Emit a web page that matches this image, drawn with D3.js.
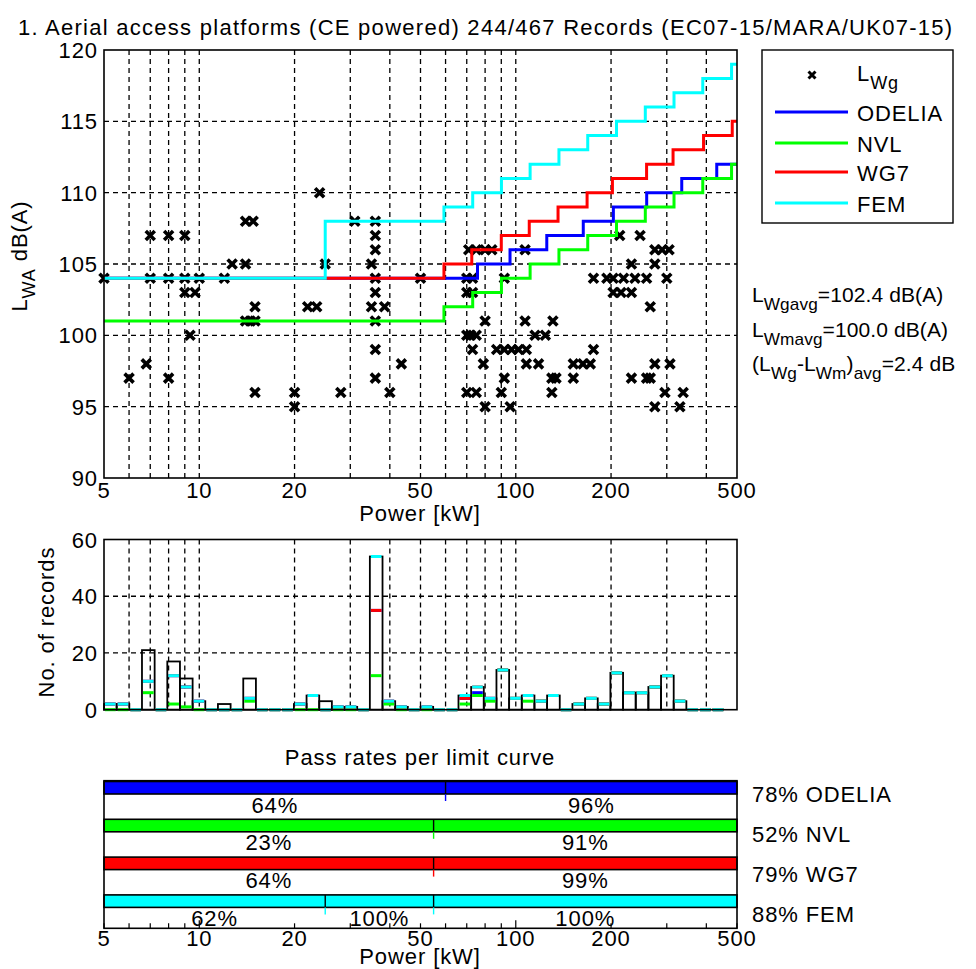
<!DOCTYPE html>
<html>
<head>
<meta charset="utf-8">
<script src="https://cdn.jsdelivr.net/npm/d3@7"></script>
<style>
body { margin: 0; background: #fff; }
text { font-family: "Liberation Sans", Arial, sans-serif; fill: #000; letter-spacing: 0.9px; }
</style>
</head>
<body>
<div id="canvas"></div>
<script>
"use strict"

// ---- data ----
let titleText = "1. Aerial access platforms (CE powered) 244/467 Records (EC07-15/MARA/UK07-15)";

// scatter L_Wg: power [kW] and level [dB(A)]
let scatterP = [5, 6, 6.8, 7, 7, 8, 8, 8, 9, 9, 9, 9.35, 9.7, 10, 12, 12.7, 14, 14, 14.8,
  14, 14.5, 15, 15, 15, 20, 20, 22, 23.5, 24, 25, 28, 31,
  36, 36, 36, 35, 36, 36, 35, 36, 36, 36, 38.5, 40, 43.5, 50,
  70, 73, 70, 73, 71, 75, 80, 84, 107, 92, 80, 107, 131, 70, 72, 75, 115, 124, 73,
  87, 92, 97, 102, 108, 79, 108, 118, 152, 163, 172, 176, 92, 130, 134, 152,
  70, 75, 90, 130, 80, 96,
  176, 194, 203, 219, 238, 259, 300, 203, 215, 232, 232, 275, 275, 290, 305,
  213, 247, 266, 232, 259, 266, 275, 307, 296, 338, 275, 330];
let scatterL = [104, 97, 98, 107, 104, 107, 104, 97, 107, 104, 103, 100, 103, 104, 104, 105, 105, 108, 108,
  101, 101, 101, 102, 96, 96, 95, 102, 102, 110, 105, 96, 108,
  108, 107, 106, 105, 104, 103, 102, 101, 99, 97, 102, 96, 98, 104,
  104, 104, 103, 103, 106, 106, 106, 106, 106, 104, 101, 101, 101, 100, 100, 100, 100, 100, 99,
  99, 99, 99, 99, 99, 98, 98, 98, 98, 98, 98, 99, 97, 97, 97, 97,
  96, 96, 96, 96, 95, 95,
  104, 104, 104, 104, 104, 104, 104, 103, 103, 103, 105, 105, 106, 106, 106,
  107, 107, 102, 97, 97, 97, 98, 98, 96, 96, 95, 95];

// limit curves as steps: power where each level starts, and the level
let odeliaStepP = [5, 75.7, 95.9, 125.3, 163.4, 203.4, 259.2, 334.5, 431.5];
let odeliaStepL = [104, 105, 106, 107, 108, 109, 110, 111, 112];
let nvlStepP = [5, 59.3, 73.1, 90.1, 111, 136.9, 168.8, 208.1, 256.6, 316.2, 389.8, 480.6];
let nvlStepL = [101, 102, 103, 104, 105, 106, 107, 108, 109, 110, 111, 112];
let wg7StepP = [5, 59.3, 72.6, 90, 110.3, 136, 168, 202, 259, 314, 392, 483];
let wg7StepL = [104, 105, 106, 107, 108, 109, 110, 111, 112, 113, 114, 115];
let femStepP = [5, 25, 59.3, 73.1, 90.1, 111, 136.9, 168.8, 208.1, 256.6, 316.2, 389.8, 480.6];
let femStepL = [104, 108, 109, 110, 111, 112, 113, 114, 115, 116, 117, 118, 119];

let curveNames = ["ODELIA", "NVL", "WG7", "FEM"];
let curveColors = ["#0000ff", "#00ff00", "#ff0000", "#00ffff"];

// histogram: records per log bin (25 bins per decade from 5 kW) and passes per curve
let histCount  = [2, 2, 0, 21, 0, 17, 11, 3, 0, 2, 0, 11, 0, 0, 0, 2, 5, 3, 1, 1, 0, 54, 3, 1, 0, 1, 0, 0, 5, 8, 4, 14, 4, 5, 3, 5, 0, 2, 4, 2, 13, 6, 6, 8, 12, 3, 0, 0, 0];
let histODELIA = [2, 2, 0, 10, 0, 12, 8, 3, 0, 0, 0, 4, 0, 0, 0, 2, 5, 0, 1, 1, 0, 35, 3, 1, 0, 1, 0, 0, 4, 6, 4, 14, 4, 5, 3, 5, 0, 2, 4, 2, 13, 6, 6, 8, 12, 3, 0, 0, 0];
let histNVL    = [0, 0, 0, 6, 0, 2, 1, 0, 0, 0, 0, 3, 0, 0, 0, 0, 0, 0, 0, 0, 0, 12, 2, 0, 0, 0, 0, 0, 2, 5, 3, 14, 4, 3, 3, 5, 0, 2, 4, 2, 13, 6, 6, 8, 12, 3, 0, 0, 0];
let histWG7    = [2, 2, 0, 10, 0, 12, 8, 3, 0, 0, 0, 4, 0, 0, 0, 2, 5, 0, 1, 1, 0, 35, 3, 1, 0, 1, 0, 0, 4, 8, 4, 14, 4, 5, 3, 5, 0, 2, 4, 2, 13, 6, 6, 8, 12, 3, 0, 0, 0];
let histFEM    = [2, 2, 0, 10, 0, 12, 8, 3, 0, 0, 0, 4, 0, 0, 0, 2, 5, 0, 1, 1, 0, 54, 3, 1, 0, 1, 0, 0, 5, 8, 4, 14, 4, 5, 3, 5, 0, 2, 4, 2, 13, 6, 6, 8, 12, 3, 0, 0, 0];

// pass rates per limit curve
let passTotal = [78, 52, 79, 88];
let passSplitP = [[60], [55], [55], [25, 55]];
let passSegRate = [[64, 96], [23, 91], [64, 99], [62, 100, 100]];

let statLines = [
  [["L", 0], ["Wgavg", 1], ["=102.4 dB(A)", 0]],
  [["L", 0], ["Wmavg", 1], ["=100.0 dB(A)", 0]],
  [["(L", 0], ["Wg", 1], ["-L", 0], ["Wm", 1], [")", 0], ["avg", 1], ["=2.4 dB", 0]]
];

let xTickVals = [5, 10, 20, 50, 100, 200, 500];
let yTickTop = [90, 95, 100, 105, 110, 115, 120];
let yTickHist = [0, 20, 40, 60];

// ---- drawing ----
let drawingWidth = 976;
let drawingHeight = 969;
let fs = 22;

let drawing = d3.select("#canvas")
    .append("svg")
    .attr("width", drawingWidth)
    .attr("height", drawingHeight);

drawing.append("rect")
    .attr("width", drawingWidth)
    .attr("height", drawingHeight)
    .attr("fill", "#fff");

let x = d3.scaleLog().domain([5, 500]).range([104, 737]);
let yTop = d3.scaleLinear().domain([90, 120]).range([478, 50]);
let yHist = d3.scaleLinear().domain([0, 60]).range([709.7, 539.5]);
let yRow = d3.scaleLinear().domain([0, 4]).range([781.5, 932.7]);
let yRowLabel = d3.scaleLinear().domain([0, 1]).range([802, 842]);

let xGrid = x.ticks().filter(d => d > 5 && d < 500);

// writes text made of normal and subscript pieces
function richText(g, parts, px, py, size, anchor) {
  let t = g.append("text").attr("x", px).attr("y", py)
      .attr("font-size", size).attr("text-anchor", anchor || "start");
  let down = false;
  parts.forEach(p => {
    let s = t.append("tspan").text(p[0]);
    if (p[1] && !down) { s.attr("dy", 8).attr("font-size", size * 0.82); down = true; }
    else if (p[1]) { s.attr("font-size", size * 0.82); }
    else if (down) { s.attr("dy", -8); down = false; }
  });
  return t;
}

function gridAndFrame(yScale, yGridVals) {
  let yb = yScale.range()[0], yt = yScale.range()[1];
  let g = drawing.append("g");
  g.selectAll(".vg").data(xGrid).join("line")
    .attr("x1", d => x(d)).attr("x2", d => x(d))
    .attr("y1", yt).attr("y2", yb)
    .attr("stroke", "#000").attr("stroke-width", 1.3)
    .attr("stroke-dasharray", "5,4");
  g.selectAll(".hg").data(yGridVals).join("line")
    .attr("x1", x(5)).attr("x2", x(500))
    .attr("y1", d => yScale(d)).attr("y2", d => yScale(d))
    .attr("stroke", "#000").attr("stroke-width", 1.3)
    .attr("stroke-dasharray", "5,4");
  return g;
}

function frame(yScale) {
  let yb = yScale.range()[0], yt = yScale.range()[1];
  drawing.append("rect")
    .attr("x", x(5)).attr("y", yt)
    .attr("width", x(500) - x(5)).attr("height", yb - yt)
    .attr("fill", "none").attr("stroke", "#000").attr("stroke-width", 1.6);
}

// title
drawing.append("text").attr("x", 18).attr("y", 35).attr("font-size", fs)
  .attr("textLength", 935).attr("lengthAdjust", "spacing")
  .text(titleText);

// ---- top plot ----
gridAndFrame(yTop, yTickTop.filter(d => d > 90 && d < 120));

let xMark = "M-4.5,-4.5L4.5,4.5M-4.5,4.5L4.5,-4.5";
drawing.append("g").selectAll("path").data(scatterP).join("path")
  .attr("d", xMark)
  .attr("transform", (d, i) => `translate(${x(d)},${yTop(scatterL[i])})`)
  .attr("stroke", "#000").attr("stroke-width", 3.6).attr("fill", "none");

let stepLine = d3.line().curve(d3.curveStepAfter)
  .x(d => x(d[0])).y(d => yTop(d[1]));

let stepSets = [[odeliaStepP, odeliaStepL], [nvlStepP, nvlStepL], [wg7StepP, wg7StepL], [femStepP, femStepL]];
stepSets.forEach((s, i) => {
  let pts = s[0].map((p, j) => [p, s[1][j]]);
  pts.push([500, s[1][s[1].length - 1]]);
  drawing.append("path").attr("d", stepLine(pts))
    .attr("fill", "none").attr("stroke", curveColors[i]).attr("stroke-width", 3);
});

frame(yTop);

drawing.append("g").selectAll("text").data(yTickTop).join("text")
  .attr("x", 98).attr("y", d => yTop(d) + 8)
  .attr("text-anchor", "end").attr("font-size", fs)
  .text(d => d);

drawing.append("g").selectAll("text").data(xTickVals).join("text")
  .attr("x", d => x(d)).attr("y", 498)
  .attr("text-anchor", "middle").attr("font-size", fs)
  .text(d => d);

drawing.append("text").attr("x", 420).attr("y", 521)
  .attr("text-anchor", "middle").attr("font-size", fs).text("Power [kW]");

let yLab = drawing.append("g").attr("transform", "translate(27,256) rotate(-90)");
richText(yLab, [["L", 0], ["WA", 1], [" dB(A)", 0]], 0, 0, fs, "middle");

// legend
drawing.append("rect").attr("x", 762).attr("y", 50).attr("width", 191).attr("height", 173)
  .attr("fill", "#fff").attr("stroke", "#000").attr("stroke-width", 1.4);
drawing.append("path").attr("d", "M-3.5,-3.5L3.5,3.5M-3.5,3.5L3.5,-3.5")
  .attr("transform", "translate(812,75)")
  .attr("stroke", "#000").attr("stroke-width", 3);
richText(drawing, [["L", 0], ["Wg", 1]], 857, 81, fs);
let legendY = [112, 143, 172, 203];
curveNames.forEach((n, i) => {
  drawing.append("line").attr("x1", 775).attr("x2", 848)
    .attr("y1", legendY[i]).attr("y2", legendY[i])
    .attr("stroke", curveColors[i]).attr("stroke-width", 3);
  drawing.append("text").attr("x", 857).attr("y", legendY[i] + 9)
    .attr("font-size", fs).text(n);
});

// statistics text
statLines.forEach((parts, i) => {
  richText(drawing, parts, 752, 302 + i * 34.5, 21)
    .style("letter-spacing", "0.1px");
});

// ---- histogram ----
gridAndFrame(yHist, [20, 40]);

let binLo = histCount.map((c, k) => 5 * Math.pow(10, k / 25));
let binHi = histCount.map((c, k) => 5 * Math.pow(10, (k + 1) / 25));

drawing.append("g").selectAll("rect").data(histCount).join("rect")
  .attr("x", (d, k) => x(binLo[k]))
  .attr("width", (d, k) => x(binHi[k]) - x(binLo[k]))
  .attr("y", d => yHist(d))
  .attr("height", d => yHist(0) - yHist(d))
  .attr("fill", "none").attr("stroke", "#000").attr("stroke-width", 1.8);

[histODELIA, histNVL, histWG7, histFEM].forEach((arr, i) => {
  drawing.append("g").selectAll("line").data(arr).join("line")
    .attr("x1", (d, k) => x(binLo[k]) + 1)
    .attr("x2", (d, k) => x(binHi[k]) - 1)
    .attr("y1", d => yHist(d)).attr("y2", d => yHist(d))
    .attr("stroke", curveColors[i]).attr("stroke-width", 3);
});

frame(yHist);

drawing.append("g").selectAll("text").data(yTickHist).join("text")
  .attr("x", 98).attr("y", d => yHist(d) + 8)
  .attr("text-anchor", "end").attr("font-size", fs)
  .text(d => d);

drawing.append("text").attr("transform", "translate(54,622) rotate(-90)")
  .attr("text-anchor", "middle").attr("font-size", fs).text("No. of records");

// ---- pass rates ----
drawing.append("text").attr("x", 420).attr("y", 765)
  .attr("text-anchor", "middle").attr("font-size", fs).text("Pass rates per limit curve");

let barH = 12.5;
let passTop = 780.7, passBottom = 928.3;

curveNames.forEach((n, i) => {
  let top = yRow(i);
  drawing.append("rect").attr("x", x(5)).attr("y", top)
    .attr("width", x(500) - x(5)).attr("height", barH)
    .attr("fill", curveColors[i]).attr("stroke", "#000").attr("stroke-width", 1.6);
  passSplitP[i].forEach(p => {
    drawing.append("line").attr("x1", x(p)).attr("x2", x(p))
      .attr("y1", top).attr("y2", top + barH)
      .attr("stroke", "#000").attr("stroke-width", 1.4);
    drawing.append("line").attr("x1", x(p)).attr("x2", x(p))
      .attr("y1", top + barH).attr("y2", top + barH + 7)
      .attr("stroke", curveColors[i]).attr("stroke-width", 1.4);
  });
  let edges = [5].concat(passSplitP[i], [500]);
  passSegRate[i].forEach((r, j) => {
    drawing.append("text")
      .attr("x", (x(edges[j]) + x(edges[j + 1])) / 2)
      .attr("y", top + 31)
      .attr("text-anchor", "middle").attr("font-size", fs)
      .text(r + "%");
  });
  drawing.append("text").attr("x", 752).attr("y", yRowLabel(i))
    .attr("font-size", fs).text(passTotal[i] + "% " + n);
});

// bottom ticks
drawing.append("g").selectAll("line").data(x.ticks()).join("line")
  .attr("x1", d => x(d)).attr("x2", d => x(d))
  .attr("y1", passBottom)
  .attr("y2", d => passBottom - (d === 10 || d === 100 ? 8 : 5))
  .attr("stroke", "#000").attr("stroke-width", 1.2);

drawing.append("rect").attr("x", x(5)).attr("y", passTop)
  .attr("width", x(500) - x(5)).attr("height", passBottom - passTop)
  .attr("fill", "none").attr("stroke", "#000").attr("stroke-width", 1.6);

drawing.append("g").selectAll("text").data(xTickVals).join("text")
  .attr("x", d => x(d)).attr("y", 946)
  .attr("text-anchor", "middle").attr("font-size", fs)
  .text(d => d);

drawing.append("text").attr("x", 420).attr("y", 964)
  .attr("text-anchor", "middle").attr("font-size", fs).text("Power [kW]");
</script>
</body>
</html>
